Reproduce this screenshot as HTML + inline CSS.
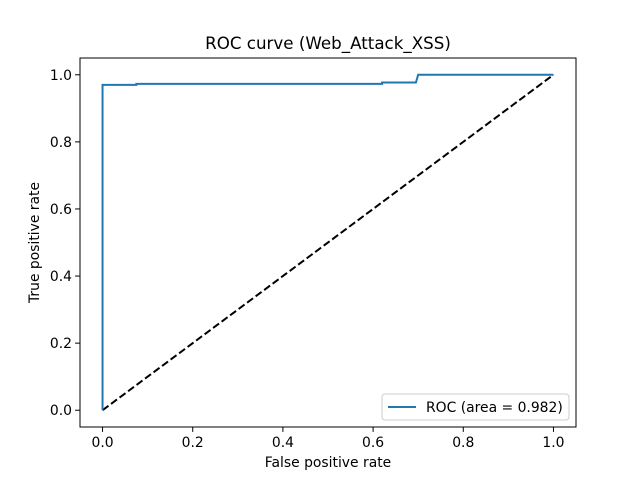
<!DOCTYPE html>
<html><head><meta charset="utf-8"><style>
body{margin:0;background:#fff}
svg text{font-family:"DejaVu Sans","Liberation Sans",sans-serif;fill:#000}
</style></head><body>
<svg width="640" height="480">
<rect width="640" height="480" fill="#fff"/>
<g id="plot"></g>
</svg>
<script>
const fprValues=[0,0,0.075,0.075,0.62,0.62,0.695,0.7,1.0];
const tprValues=[0,0.97,0.97,0.973,0.973,0.977,0.977,1.0,1.0];
const diagX=[0,1];
const diagY=[0,1];
const xTicks=[0,0.2,0.4,0.6,0.8,1.0];
const yTicks=[0,0.2,0.4,0.6,0.8,1.0];
const xTickLabels=["0.0","0.2","0.4","0.6","0.8","1.0"];
const yTickLabels=["0.0","0.2","0.4","0.6","0.8","1.0"];
const L=80,R=576,T=58,B=427;
const sx=v=>L+(v+0.05)/1.1*(R-L);
const sy=v=>B-(v+0.05)/1.1*(B-T);
const NS="http://www.w3.org/2000/svg";
const g=document.getElementById('plot');
function mk(tag,attrs,parent){const e=document.createElementNS(NS,tag);for(const k in attrs)e.setAttribute(k,attrs[k]);(parent||g).appendChild(e);return e;}
let e;
e=mk('polyline',{points:diagX.map((x,i)=>sx(x)+','+sy(diagY[i])).join(' '),fill:'none',stroke:'#000','stroke-width':2,'stroke-dasharray':'7.4,3.2'});


e=mk('polyline',{points:fprValues.map((x,i)=>sx(x)+','+sy(tprValues[i])).join(' '),fill:'none',stroke:'#1f77b4','stroke-width':2});


e=mk('rect',{x:L,y:T,width:R-L,height:B-T,fill:'none',stroke:'#000','stroke-width':1});


xTicks.forEach((v,i)=>{
 mk('line',{x1:sx(v),x2:sx(v),y1:B,y2:B+4.9,stroke:'#000','stroke-width':1});
 e=mk('text',{x:sx(v),y:B+20,'text-anchor':'middle','font-size':13.9});e.textContent=xTickLabels[i];
 
 
});
yTicks.forEach((v,i)=>{
 mk('line',{x1:L-4.9,x2:L,y1:sy(v),y2:sy(v),stroke:'#000','stroke-width':1});
 e=mk('text',{x:L-8,y:sy(v)+5,'text-anchor':'end','font-size':13.9});e.textContent=yTickLabels[i];
 
 
});
e=mk('text',{x:(L+R)/2,y:T-9,'text-anchor':'middle','font-size':16.7});e.textContent='ROC curve (Web_Attack_XSS)';


e=mk('text',{x:(L+R)/2,y:467,'text-anchor':'middle','font-size':13.9});e.textContent='False positive rate';


e=mk('text',{x:0,y:0,'text-anchor':'middle','font-size':13.9,transform:`translate(39,${(T+B)/2}) rotate(-90)`});e.textContent='True positive rate';


const lg=mk('g',{});


mk('rect',{x:382,y:394,width:187,height:26,rx:3,fill:'#fff',stroke:'#ccc','stroke-width':1},lg);
mk('line',{x1:388,x2:416,y1:407,y2:407,stroke:'#1f77b4','stroke-width':2},lg);
e=mk('text',{x:426,y:412,'font-size':13.9},lg);e.textContent='ROC (area = 0.982)';


</script>
</body></html>
